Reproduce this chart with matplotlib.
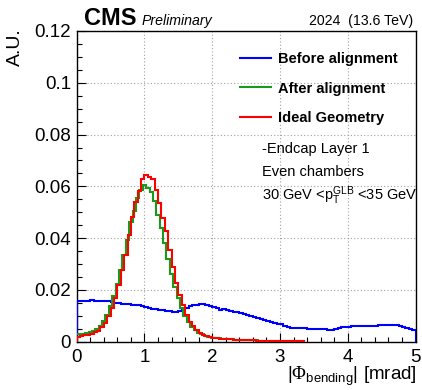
import numpy as np
import matplotlib
matplotlib.use("Agg")
import matplotlib.pyplot as plt
from matplotlib.lines import Line2D
from matplotlib.ticker import MultipleLocator, FuncFormatter

plt.rcParams['font.family'] = ['Liberation Sans', 'DejaVu Sans']
plt.rcParams['mathtext.fontset'] = 'custom'
plt.rcParams['mathtext.rm'] = 'Liberation Sans'
plt.rcParams['mathtext.it'] = 'Liberation Sans:italic'
plt.rcParams['mathtext.bf'] = 'Liberation Sans:bold'
plt.rcParams['mathtext.cal'] = 'Liberation Serif'

# ---- data (normalised histograms, 100 bins of 0.05 mrad from 0 to 5) ----
bin_lo, bin_hi, n_bins = 0.0, 5.0, 100
green_shift = -0.025

before_alignment = [
    0.0158, 0.0159, 0.0158, 0.0159, 0.0160, 0.0159, 0.0158, 0.0159, 0.0158, 0.0157,
    0.0152, 0.0150, 0.0149, 0.0147, 0.0146, 0.0144, 0.0143, 0.0142, 0.0140, 0.0137,
    0.0134, 0.0131, 0.0128, 0.0126, 0.0124, 0.0122, 0.0120, 0.0117, 0.0115, 0.0114,
    0.0119, 0.0126, 0.0132, 0.0137, 0.0140, 0.0142, 0.0144, 0.0145, 0.0143, 0.0139,
    0.0134, 0.0129, 0.0124, 0.0127, 0.0122, 0.0118, 0.0114, 0.0113, 0.0110, 0.0106,
    0.0102, 0.0098, 0.0095, 0.0091, 0.0087, 0.0083, 0.0079, 0.0076, 0.0073, 0.0070,
    0.0067, 0.0062, 0.0056, 0.0054, 0.0053, 0.0052, 0.0051, 0.0051, 0.0050, 0.0050,
    0.0049, 0.0049, 0.0048, 0.0048, 0.0047, 0.0046, 0.0048, 0.0052, 0.0055, 0.0057,
    0.0058, 0.0059, 0.0060, 0.0059, 0.0061, 0.0062, 0.0061, 0.0062, 0.0062, 0.0063,
    0.0063, 0.0063, 0.0064, 0.0063, 0.0064, 0.0062, 0.0058, 0.0054, 0.0049, 0.0044,
]

after_alignment = [
    0.0028, 0.0029, 0.0031, 0.0034, 0.0038, 0.0043, 0.0050, 0.0062, 0.0081, 0.0105,
    0.0136, 0.0175, 0.0222, 0.0278, 0.0336, 0.0394, 0.0464, 0.0503, 0.0554, 0.0586,
    0.0605, 0.0595, 0.0580, 0.0545, 0.0490, 0.0440, 0.0380, 0.0320, 0.0262, 0.0212,
    0.0168, 0.0130, 0.0100, 0.0076, 0.0058, 0.0045, 0.0035, 0.0028, 0.0023, 0.0019,
    0.0016, 0.0015, 0.0013, 0.0012, 0.0011, 0.0010, 0.0009, 0.0008, 0.0007, 0.0007,
    0.0006, 0.0006, 0.0005, 0.0005, 0.0004, 0.0004, 0.0003, 0.0003, 0.0003, 0.0002,
    0.0002, 0.0002, 0.0002, 0.0001, 0.0001, 0.0001, 0.0, 0.0, 0.0, 0.0,
    0.0, 0.0, 0.0, 0.0, 0.0, 0.0, 0.0, 0.0, 0.0, 0.0,
    0.0, 0.0, 0.0, 0.0, 0.0, 0.0, 0.0, 0.0, 0.0, 0.0,
    0.0, 0.0, 0.0, 0.0, 0.0, 0.0, 0.0, 0.0, 0.0, 0.0,
]

ideal_geometry = [
    0.0020, 0.0022, 0.0024, 0.0027, 0.0031, 0.0036, 0.0043, 0.0055, 0.0072, 0.0098,
    0.0130, 0.0170, 0.0220, 0.0277, 0.0334, 0.0411, 0.0480, 0.0540, 0.0582, 0.0630,
    0.0642, 0.0638, 0.0628, 0.0586, 0.0537, 0.0477, 0.0426, 0.0355, 0.0290, 0.0227,
    0.0180, 0.0143, 0.0104, 0.0078, 0.0059, 0.0044, 0.0033, 0.0027, 0.0021, 0.0017,
    0.0015, 0.0014, 0.0012, 0.0011, 0.0010, 0.0009, 0.0008, 0.0007, 0.0007, 0.0006,
    0.0006, 0.0005, 0.0005, 0.0004, 0.0004, 0.0004, 0.0003, 0.0003, 0.0003, 0.0002,
    0.0002, 0.0002, 0.0002, 0.0002, 0.0001, 0.0001, 0.0001, 0.0, 0.0, 0.0,
    0.0, 0.0, 0.0, 0.0, 0.0, 0.0, 0.0, 0.0, 0.0, 0.0,
    0.0, 0.0, 0.0, 0.0, 0.0, 0.0, 0.0, 0.0, 0.0, 0.0,
    0.0, 0.0, 0.0, 0.0, 0.0, 0.0, 0.0, 0.0, 0.0, 0.0,
]

labels = ["Before alignment", "After alignment", "Ideal Geometry"]
colors = ["#0000ff", "#1a9a1a", "#ff0000"]

annot_lines = ["-Endcap Layer 1", "Even chambers",
               r"30 GeV <$\mathrm{p}_{\mathrm{T}}^{\mathrm{GLB}}$ <35 GeV"]
x_ticks = [0, 1, 2, 3, 4, 5]
y_ticks = [0, 0.02, 0.04, 0.06, 0.08, 0.1, 0.12]

# ---- figure ----
W, H = 422, 390
fig = plt.figure(figsize=(W / 100, H / 100), dpi=100)
ax = fig.add_axes([76.7 / W, 1 - 341.7 / H, (415.5 - 76.7) / W, (341.7 - 31) / H])

edges = np.linspace(bin_lo, bin_hi, n_bins + 1)


def draw(vals, e, color):
    v = np.asarray(vals)
    nz = np.nonzero(v)[0]
    n = nz[-1] + 1 if len(nz) else len(v)
    ax.stairs(v[:n], e[:n + 1], baseline=0, color=color, lw=1.5, zorder=3)


draw(before_alignment, edges, colors[0])
draw(after_alignment, edges + green_shift, colors[1])
draw(ideal_geometry, edges, colors[2])

ax.set_xlim(0, 5)
ax.set_ylim(0, 0.12)
ax.set_xticks(x_ticks)
ax.set_yticks(y_ticks)
ax.xaxis.set_minor_locator(MultipleLocator(0.2))
ax.yaxis.set_minor_locator(MultipleLocator(0.005))
ax.yaxis.set_major_formatter(FuncFormatter(lambda v, p: "%g" % round(v, 4)))
ax.xaxis.set_major_formatter(FuncFormatter(lambda v, p: "%g" % v))
ax.tick_params(which='both', direction='in', top=False, right=False,
               width=0.8, colors='black', labelsize=13.5)
ax.tick_params(which='major', length=6.5)
ax.tick_params(which='minor', length=3.3)
ax.tick_params(axis='x', which='major', pad=5)
ax.tick_params(axis='y', which='major', pad=4)
ax.grid(True, which='major', color='#a0a0a0', linestyle=(0, (1, 2)), lw=0.8)
for s in ax.spines.values():
    s.set_linewidth(1.0)
    s.set_color('black')

# legend
handles = [Line2D([], [], color=c, lw=1.5) for c in colors]
leg = ax.legend(handles, labels, loc='center left',
                bbox_to_anchor=(240 / W, 1 - 88.5 / H), bbox_transform=fig.transFigure,
                frameon=False, borderpad=0, borderaxespad=0,
                handlelength=2.1, handletextpad=0.5, labelspacing=1.05,
                prop={'weight': 'bold', 'size': 10.5})

# annotation lines
for i, t in enumerate(annot_lines):
    fig.text(262 / W, 1 - (149 + 23.5 * i) / H, t, ha='left', va='center', fontsize=10.5)

# header
fig.text(84 / W, 1 - 25 / H, "CMS", fontsize=17, fontweight='bold', ha='left', va='baseline')
fig.text(142 / W, 1 - 25 / H, "Preliminary", fontsize=10.2, style='italic', ha='left', va='baseline')
fig.text(413 / W, 1 - 25.5 / H, "2024  (13.6 TeV)", fontsize=10.2, ha='right', va='baseline')

# axis titles
fig.text(15.5 / W, 1 - 28 / H, "A.U.", rotation=90, ha='center', va='top', fontsize=14)
fig.text(417 / W, 1 - 380 / H, r"$|\mathcal{\Phi}_{\mathrm{bending}}|$ [mrad]",
         ha='right', va='baseline', fontsize=13.5)

fig.savefig("out.png", dpi=100)
